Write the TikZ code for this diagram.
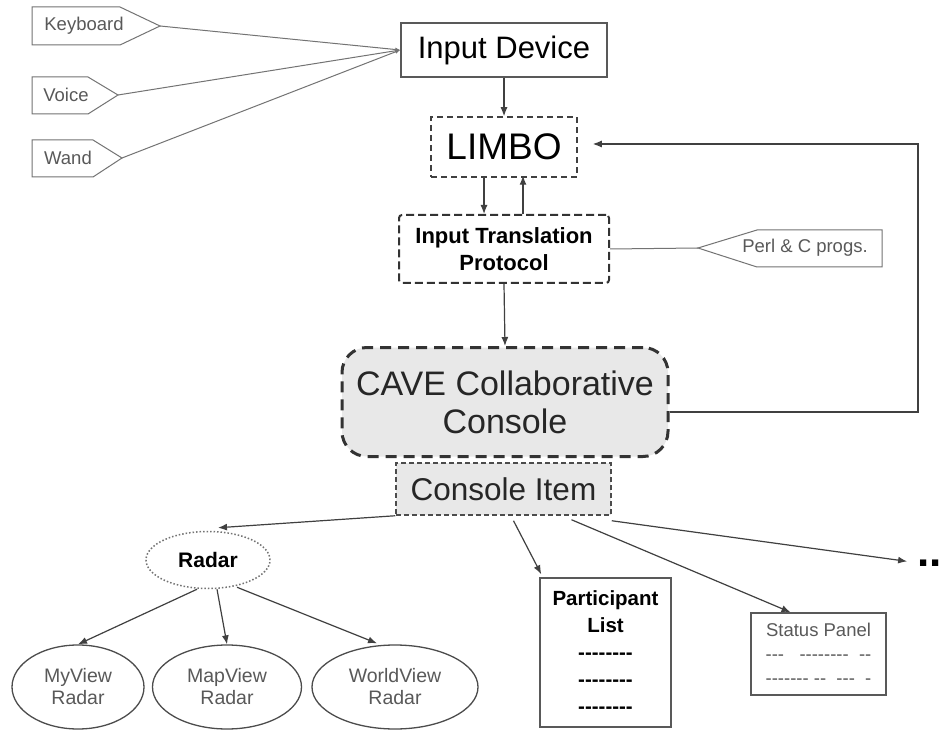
\documentclass[tikz,border=0pt]{standalone}
\usepackage{fontspec}
\setmainfont{Liberation Sans}[Ligatures=TeXOff]
\usetikzlibrary{arrows.meta,shapes.geometric}

\tikzset{
  conn/.style={draw=black!75, line width=1.2pt},
  tagline/.style={draw=black!55, line width=1pt},
  tagtext/.style={text=black!65, font=\fontsize{18.5}{22}\selectfont},
  plainbox/.style={draw=black!65, line width=1.5pt, inner sep=0pt},
  limbobox/.style={draw=black!75, line width=1.5pt, dash pattern=on 6pt off 4pt, inner sep=0pt},
  itpbox/.style={draw=black!80, line width=2pt, dash pattern=on 8pt off 4pt, rounded corners=3pt,
    inner sep=0pt, align=center, font=\fontsize{22}{27}\selectfont\bfseries},
  cavebox/.style={draw=black!80, fill=black!9, line width=3pt, dash pattern=on 11pt off 7pt,
    rounded corners=25pt, inner sep=0pt, align=center, font=\fontsize{34}{38}\selectfont, text=black!85},
  itembox/.style={draw=black!70, fill=black!9, line width=1.5pt, dash pattern=on 5pt off 3pt,
    inner sep=0pt, font=\fontsize{31.5}{36}\selectfont, text=black!85},
  radarnode/.style={ellipse, draw=black!55, line width=1.5pt, dotted, inner sep=0pt,
    font=\fontsize{21}{24}\selectfont\bfseries},
  viewnode/.style={ellipse, draw=black!70, line width=1.3pt, inner sep=0pt, align=center,
    text=black!65, font=\fontsize{19.5}{22}\selectfont},
}

\begin{document}
\begin{tikzpicture}[x=1pt,y=-1pt,>={Latex[length=9pt,width=7pt]}]
\useasboundingbox[fill=white] (0,0) rectangle (943,730);

% input tags
\node[tagtext] (kbd) at (84,26) {Keyboard};
\draw[tagline] (32,7) -- (120,7) -- (160,26) coordinate (kbdtip) -- (120,45) -- (32,45) -- cycle;
\node[tagtext] (voice) at (66,95) {Voice};
\draw[tagline] (32,77) -- (88,77) -- (118,95) coordinate (voicetip) -- (88,114) -- (32,114) -- cycle;
\node[tagtext] (wand) at (68,158) {Wand};
\draw[tagline] (32,140) -- (93,140) -- (122,158) coordinate (wandtip) -- (93,177) -- (32,177) -- cycle;
\node[tagtext] (perl) at (805,248) {Perl \& C progs.};
\draw[tagline] (882,230) -- (757,230) -- (698,248) coordinate (perltip) -- (757,267) -- (882,267) -- cycle;

% main column
\node[plainbox, minimum width=206, minimum height=54, font=\fontsize{31}{36}\selectfont] (input) at (504,50) {Input Device};
\node[limbobox, minimum width=146, minimum height=60, font=\fontsize{37}{40}\selectfont] (limbo) at (504,147) {LIMBO};
\node[itpbox, minimum width=210, minimum height=68] (itp) at (504,249) {Input Translation\\Protocol};
\node[cavebox, minimum width=326, minimum height=109] (cave) at (505,402) {CAVE Collaborative\\Console};
\node[itembox, minimum width=215, minimum height=52] (item) at (503.5,489) {Console Item};

% console items
\node[radarnode, minimum width=124, minimum height=57] (radar) at (208,560) {Radar};
\node[viewnode, minimum width=132, minimum height=84] (myview) at (78,687) {MyView\\Radar};
\node[viewnode, minimum width=149, minimum height=84] (mapview) at (227,687) {MapView\\Radar};
\node[viewnode, minimum width=166, minimum height=84] (worldview) at (395,687) {WorldView\\Radar};
\node[plainbox, minimum width=131, minimum height=149, align=center,
  font=\fontsize{20.5}{27}\selectfont\bfseries] (plist) at (605.5,652.5)
  {Participant\\List\\--------\\--------\\--------};
\node[plainbox, minimum width=135, minimum height=82, align=center, text=black!65,
  font=\fontsize{18.5}{24}\selectfont] (status) at (818.5,654)
  {Status Panel\\---~~~--------~~--\\-------~--~~---~~-};
\node[anchor=base west, inner sep=0pt, font=\fontsize{44}{44}\selectfont\bfseries] (more) at (917,566) {..};

% connectors
\draw[conn, tagline, ->, >={Latex[length=5pt,width=4pt]}] (kbdtip) -- (input.west);
\draw[conn, tagline, ->, >={Latex[length=5pt,width=4pt]}] (voicetip) -- (input.west);
\draw[conn, tagline, ->, >={Latex[length=5pt,width=4pt]}] (wandtip) -- (input.west);
\draw[conn, ->] (input.south) -- (limbo.north);
\draw[conn, ->] ([xshift=-20pt]limbo.south) -- ([xshift=-20pt]itp.north);
\draw[conn, ->] ([xshift=19pt]itp.north) -- ([xshift=19pt,yshift=2pt]limbo.south);
\draw[conn, tagline] (itp.east) -- (perltip);
\draw[conn, ->] (itp.south) -- (cave.north);
\coordinate (fbcorner) at (918,144);
\draw[conn, ->, shorten >=15pt] ([yshift=-10pt]cave.east) -| (fbcorner) -- (limbo.east |- fbcorner);

\draw[conn, ->] (item.south west) -- ([xshift=10pt,yshift=3pt]radar.north);
\draw[conn, ->] ([xshift=10pt,yshift=-5pt]item.south) -- ([xshift=2pt,yshift=3pt]plist.north west);
\draw[conn, ->] ([xshift=68pt,yshift=-4pt]item.south) -- ([xshift=-28pt]status.north);
\draw[conn, ->, shorten >=10pt] ([yshift=-5pt]item.south east) -- (more.west);

\draw[conn, ->] ([xshift=-11pt]radar.south) -- (myview.north);
\draw[conn, ->] ([xshift=9pt]radar.south) -- (mapview.north);
\draw[conn, ->] ([xshift=29pt,yshift=2pt]radar.south) -- ([xshift=-18pt,yshift=1pt]worldview.north);

\end{tikzpicture}
\end{document}
